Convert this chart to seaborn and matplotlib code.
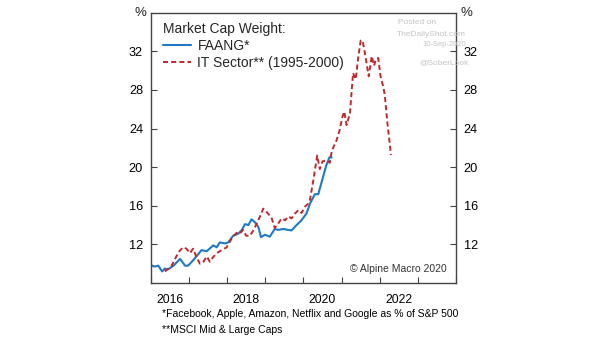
import matplotlib
matplotlib.use("Agg")
import matplotlib.pyplot as plt
import seaborn as sns
import numpy as np

# ---- data (decimal years, % weight) ----
faang_t = [2016.03, 2016.10, 2016.20, 2016.30, 2016.37, 2016.45, 2016.60, 2016.77, 2016.90, 2016.98,
           2017.10, 2017.25, 2017.33, 2017.47, 2017.64, 2017.73, 2017.81, 2017.95, 2018.03, 2018.16,
           2018.29, 2018.38, 2018.47, 2018.56, 2018.64, 2018.73, 2018.82, 2018.89, 2018.99, 2019.12,
           2019.25, 2019.34, 2019.47, 2019.60, 2019.69, 2019.82, 2019.95, 2020.08, 2020.17, 2020.30,
           2020.39, 2020.48, 2020.60, 2020.68, 2020.74]
faang_v = [9.82, 9.7, 9.8, 9.2, 9.5, 9.4, 9.8, 10.5, 9.8, 9.8,
           10.3, 11.0, 11.4, 11.3, 11.9, 11.7, 12.2, 12.1, 12.2, 12.9,
           13.1, 13.45, 14.1, 14.0, 14.6, 14.3, 13.8, 12.75, 13.0, 12.8,
           13.6, 13.5, 13.6, 13.5, 13.45, 14.0, 14.5, 15.2, 16.2, 17.2,
           17.2, 18.5, 20.2, 21.0, 21.0]

it_t = [2016.37, 2016.45, 2016.55, 2016.64, 2016.73, 2016.85, 2016.94, 2017.03, 2017.11, 2017.20,
        2017.29, 2017.38, 2017.47, 2017.55, 2017.64, 2017.73, 2017.86, 2017.99, 2018.12, 2018.25,
        2018.33, 2018.42, 2018.50, 2018.60, 2018.69, 2018.82, 2018.95, 2019.04, 2019.17, 2019.25,
        2019.34, 2019.43, 2019.52, 2019.60, 2019.69, 2019.78, 2019.87, 2019.95, 2020.04, 2020.12,
        2020.17, 2020.26, 2020.36, 2020.43, 2020.50, 2020.60, 2020.69, 2020.74, 2020.80, 2020.87,
        2020.95, 2021.02, 2021.07, 2021.13, 2021.22, 2021.26, 2021.30, 2021.37, 2021.44, 2021.50,
        2021.55, 2021.61, 2021.71, 2021.79, 2021.85, 2021.90, 2021.96, 2022.02, 2022.09, 2022.13,
        2022.20, 2022.27, 2022.29]
it_v = [9.2, 9.45, 9.8, 10.5, 11.2, 11.7, 11.55, 11.1, 11.55, 10.7,
        10.0, 10.2, 10.75, 10.2, 10.7, 11.1, 11.4, 11.7, 12.6, 13.2,
        13.1, 13.5, 12.9, 12.9, 13.45, 14.5, 15.7, 15.35, 14.7, 13.7,
        14.15, 14.7, 14.5, 14.9, 14.7, 15.2, 15.55, 15.25, 15.9, 16.2,
        16.6, 18.65, 21.2, 19.8, 20.6, 20.7, 20.45, 21.6, 22.2, 22.8,
        23.85, 25.2, 25.75, 24.35, 25.6, 27.7, 29.75, 29.1, 31.5, 33.1,
        33.1, 31.8, 29.4, 31.5, 30.5, 31.2, 31.3, 29.4, 28.35, 27.5,
        24.55, 22.1, 21.25]

year_ticks = [2016, 2017, 2018, 2019, 2020, 2021, 2022, 2023, 2024]
year_labels = ["2016", "2018", "2020", "2022"]
y_ticks = [12, 16, 20, 24, 28, 32]

BLUE = "#1f78c8"
RED = "#c0282d"

sns.set_theme(style="white")
plt.rcParams["font.family"] = ["Liberation Sans", "DejaVu Sans"]

fig = plt.figure(figsize=(6.05, 3.41), dpi=100)
ax = fig.add_axes([0.249, 0.170, 0.505, 0.793])

sns.lineplot(x=faang_t, y=faang_v, ax=ax, color=BLUE, linewidth=1.5, label="FAANG*")
sns.lineplot(x=it_t, y=it_v, ax=ax, color=RED, linewidth=1.4,
             linestyle=(0, (2.6, 1.6)), label="IT Sector** (1995-2000)")

ax.set_xlim(2016, 2024)
ax.set_ylim(8, 36)
ax.set_xticks(year_ticks)
ax.set_xticklabels([])
ax.set_xticks([int(s) + 0.5 for s in year_labels], minor=True)
ax.set_xticklabels(year_labels, minor=True)
ax.set_yticks(y_ticks)
ax.set_yticklabels([str(v) for v in y_ticks])

ax.tick_params(axis="x", which="major", direction="in", length=4, width=0.8, color="#444444", bottom=True)
ax.tick_params(axis="x", which="minor", length=0, pad=8, labelsize=8.8, labelcolor="black")
ax.tick_params(axis="y", which="major", direction="in", length=4, width=0.8, color="#444444",
               left=True, right=True, labelleft=True, labelright=True, pad=5.5, labelsize=9.2,
               labelcolor="black")

for s in ax.spines.values():
    s.set_visible(True)
    s.set_color("#444444")
    s.set_linewidth(1.0)
ax.set_xlabel("")
ax.set_ylabel("")

ax.text(-0.035, 1.0, "%", transform=ax.transAxes, ha="center", va="center", fontsize=9.5)
ax.text(1.035, 1.0, "%", transform=ax.transAxes, ha="center", va="center", fontsize=9.5)

leg = ax.legend(loc="upper left", title="Market Cap Weight:", frameon=False, fontsize=10,
                title_fontsize=10, alignment="left", handlelength=2.0, handletextpad=0.45,
                borderaxespad=0.3, labelspacing=0.2, bbox_to_anchor=(0.01, 1.0))

ax.text(0.970, 0.052, "\u00a9 Alpine Macro 2020", transform=ax.transAxes, ha="right",
        va="center", fontsize=7.5, color="#333333")

# watermark
wm = "#c4c4c4"
fig.text(398 / 605, 1 - 23 / 341, "Posted on", fontsize=6, color=wm, ha="left", va="center")
fig.text(396.5 / 605, 1 - 35 / 341, "TheDailyShot.com", fontsize=6, color=wm, ha="left", va="center")
fig.text(466 / 605, 1 - 45 / 341, "10-Sep-2020", fontsize=5.5, color=wm, ha="right", va="center")
fig.text(444 / 605, 1 - 63 / 341, "@SoberLook", fontsize=6, color=wm, ha="center", va="center")

fig.text(0.267, 1 - 314 / 341, "*Facebook, Apple, Amazon, Netflix and Google as % of S&P 500",
         fontsize=7.5, ha="left", va="center", color="black")
fig.text(0.267, 1 - 330 / 341, "**MSCI Mid & Large Caps",
         fontsize=7.5, ha="left", va="center", color="black")

fig.savefig("out.png", dpi=100)
